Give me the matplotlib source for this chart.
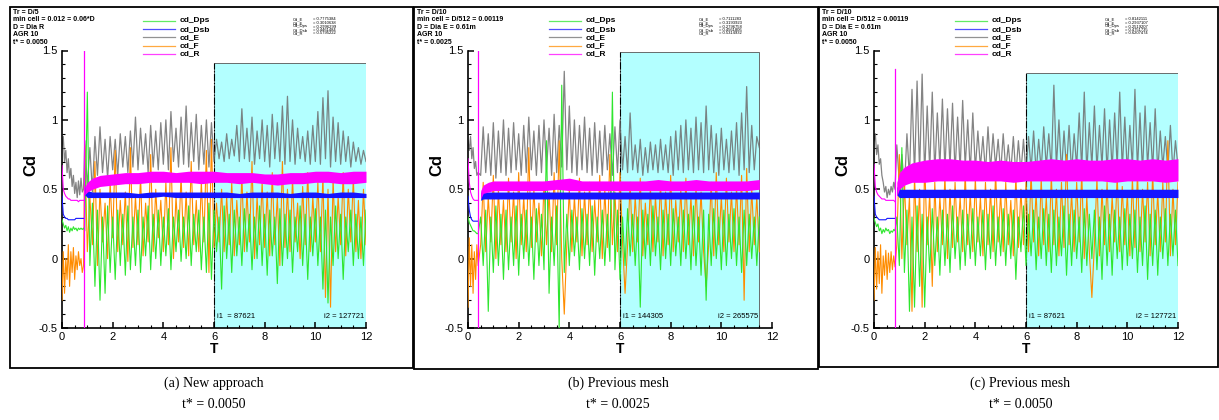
import numpy as np
import matplotlib.pyplot as plt
from matplotlib.patches import Rectangle
from matplotlib.lines import Line2D
from matplotlib.ticker import MultipleLocator, FuncFormatter

plt.rcParams['font.family'] = ['Liberation Sans', 'DejaVu Sans']
plt.rcParams['axes.unicode_minus'] = False

W, H = 1219, 420

# ---------------- panel (a) : new approach, t* = 0.0050 ----------------
jump_a = 0.85          # restart time (vertical cd_R line)
spike_top_a = 1.5
t_start_a, t_end_a = 0.9, 12.0
box_end_a, box_top_a = 12.0, 1.41

e0_a = [0.80, 0.88, 0.70, 0.78, 0.62, 0.72, 0.58, 0.65, 0.52, 0.60, 0.47, 0.55, 0.44, 0.56, 0.46, 0.58, 0.48, 0.50]
r0_a = [0.67, 0.50, 0.47, 0.45, 0.44, 0.43, 0.43, 0.42, 0.42, 0.42, 0.42, 0.42, 0.42, 0.41, 0.42, 0.42, 0.42, 0.42]
dsb0_a = [0.45, 0.32, 0.30, 0.29, 0.29, 0.28, 0.28, 0.28, 0.28, 0.28, 0.28, 0.29, 0.29, 0.29, 0.29, 0.29, 0.29, 0.29]
dps0_a = [0.28, 0.25, 0.22, 0.24, 0.20, 0.23, 0.19, 0.22, 0.20, 0.23, 0.21, 0.22, 0.20, 0.22, 0.21, 0.22, 0.21, 0.22]
f0_a = [-0.30, 0.05, -0.25, 0.00, -0.15, 0.10, -0.20, 0.05, -0.10, 0.08, -0.15, 0.02, -0.08, 0.05, -0.05, 0.00, -0.10, -0.05]

e_a = [0.85, 0.52, 0.80, 0.48, 0.88, 0.60, 0.95, 0.62, 0.86, 0.58,
       0.88, 0.64, 0.86, 0.60, 0.90, 0.66, 0.88, 0.62, 0.92, 0.66,
       1.02, 0.64, 0.94, 0.68, 0.90, 0.62, 0.96, 0.66, 0.92, 0.64,
       0.98, 0.68, 1.00, 0.64, 1.06, 0.70, 0.94, 0.66, 1.02, 0.68,
       1.10, 0.66, 0.98, 0.70, 1.04, 0.64, 0.96, 0.68, 1.00, 0.66,
       0.98, 0.70, 0.86, 0.72, 0.84, 0.70, 0.90, 0.72, 0.86, 0.74,
       0.96, 0.70, 1.08, 0.72, 0.94, 0.70, 1.02, 0.68, 0.92, 0.72,
       1.00, 0.70, 0.96, 0.66, 1.04, 0.72, 0.98, 0.70, 1.10, 0.68,
       1.17, 0.70, 1.00, 0.68, 0.94, 0.72, 0.88, 0.70, 0.92, 0.68,
       0.96, 0.70, 1.06, 0.68, 1.16, 0.72, 1.21, 0.66, 1.02, 0.70,
       0.98, 0.68, 0.92, 0.70, 0.88, 0.66, 0.84, 0.70, 0.80, 0.68,
       0.78, 0.70]
f_a = [0.82, 0.05, 0.45, 0.10, 0.70, -0.05, 0.50, 0.12, 0.40, 0.00,
       0.55, 0.15, 0.78, 0.05, 0.42, 0.10, 0.48, -0.02, 0.80, 0.08,
       0.45, 0.10, 0.60, 0.02, 0.40, 0.12, 0.75, 0.05, 0.50, 0.15,
       0.42, 0.05, 0.55, 0.10, 0.80, 0.00, 0.45, 0.12, 0.60, 0.08,
       0.48, 0.02, 0.70, 0.10, 0.42, 0.05, 0.55, 0.12, 0.78, -0.10,
       0.86, 0.08, 0.40, 0.12, 0.50, 0.05, 0.45, 0.10, 0.55, 0.02,
       0.42, 0.10, 0.60, 0.05, 0.48, 0.12, 0.70, 0.00, 0.45, 0.10,
       0.55, 0.08, 0.48, 0.02, 0.62, 0.10, 0.45, -0.05, 0.70, 0.08,
       0.50, 0.05, 0.58, 0.12, 0.40, 0.00, 0.52, 0.10, 0.62, 0.05,
       0.45, 0.12, 0.55, 0.05, 0.60, -0.28, 0.50, -0.35, 0.58, 0.05,
       0.45, 0.10, 0.62, 0.02, 0.50, 0.12, 0.58, 0.05, 0.42, 0.00,
       0.50, 0.10]
dps_a = [0.20, 1.20, -0.05, 0.40, -0.20, 0.35, -0.30, 0.30, -0.25, 0.38,
         -0.10, 0.30, -0.15, 0.35, -0.05, 0.32, -0.12, 0.38, -0.08, 0.30,
         -0.05, 0.35, -0.10, 0.30, 0.02, 0.38, -0.08, 0.32, 0.00, 0.35,
         -0.05, 0.30, 0.02, 0.36, -0.08, 0.30, 0.05, 0.35, -0.02, 0.30,
         0.00, 0.38, -0.05, 0.32, 0.05, 0.35, -0.08, 0.30, -0.10, 0.40,
         -0.15, 0.35, 0.05, 0.30, -0.22, 0.38, 0.00, 0.32, -0.10, 0.35,
         0.02, 0.30, -0.05, 0.36, 0.05, 0.32, -0.08, 0.30, 0.00, 0.38,
         -0.05, 0.32, -0.12, 0.35, 0.02, 0.30, -0.18, 0.36, -0.05, 0.32,
         0.00, 0.35, -0.10, 0.30, 0.05, 0.38, -0.05, 0.32, -0.15, 0.30,
         0.02, 0.36, -0.05, 0.30, -0.22, 0.35, -0.32, 0.30, -0.05, 0.38,
         0.00, 0.32, -0.15, 0.30, 0.05, 0.35, -0.05, 0.32, 0.00, 0.30,
         -0.05, 0.35]

t_band_a = [0.9, 1.0, 1.2, 1.5, 2.0, 2.5, 3.0, 3.5, 4.0, 4.5, 5.0, 5.5, 6.0,
            6.5, 7.0, 7.5, 8.0, 8.5, 9.0, 9.5, 10.0, 10.5, 11.0, 11.5, 12.0]
r_lo_a = [0.46, 0.48, 0.50, 0.52, 0.53, 0.54, 0.54, 0.55, 0.55, 0.55, 0.55, 0.54, 0.55,
          0.55, 0.54, 0.55, 0.54, 0.53, 0.54, 0.54, 0.55, 0.55, 0.54, 0.54, 0.55]
r_hi_a = [0.52, 0.55, 0.58, 0.60, 0.61, 0.62, 0.62, 0.63, 0.63, 0.62, 0.63, 0.63, 0.63,
          0.62, 0.62, 0.62, 0.61, 0.61, 0.62, 0.62, 0.63, 0.63, 0.62, 0.63, 0.63]
dsb_lo_a = [0.46, 0.44, 0.44, 0.44, 0.44, 0.44, 0.44, 0.44, 0.45, 0.44, 0.44, 0.44, 0.44,
            0.44, 0.44, 0.44, 0.44, 0.44, 0.44, 0.44, 0.44, 0.44, 0.44, 0.44, 0.44]
dsb_hi_a = [0.52, 0.49, 0.48, 0.48, 0.48, 0.48, 0.47, 0.48, 0.48, 0.48, 0.48, 0.48, 0.48,
            0.48, 0.47, 0.48, 0.48, 0.48, 0.47, 0.48, 0.48, 0.47, 0.48, 0.48, 0.47]

header_a = ['Tr = D/5', 'min cell = 0.012 = 0.06*D', 'D = Dia R', 'AGR 10', 't* = 0.0050']
stat_names = ['Cd_E', 'Cd_F', 'Cd_Dps', 'Cd_Dsb', 'Cd_R']
stats_a = ['0.7775384', '0.3010638', '0.2996299', '0.4461484', '0.5795222']
i1_a, i2_a = 'i1  = 87621', 'i2 = 127721'
caption_a = ['(a) New approach', 't* = 0.0050']

# ---------------- panel (b) : previous mesh, t* = 0.0025 ----------------
jump_b = 0.4
spike_top_b = 1.5
t_start_b, t_end_b = 0.5, 11.5
box_end_b, box_top_b = 11.5, 1.49

e0_b = [0.85, 0.78, 0.88, 0.72, 0.80, 0.65, 0.70, 0.60, 0.62]
r0_b = [0.72, 0.55, 0.48, 0.45, 0.43, 0.42, 0.42, 0.42, 0.42]
dsb0_b = [0.45, 0.35, 0.30, 0.28, 0.27, 0.27, 0.27, 0.27, 0.27]
dps0_b = [0.30, 0.26, 0.24, 0.22, 0.20, 0.20, 0.19, 0.18, 0.18]
f0_b = [-0.35, 0.15, -0.20, 0.10, -0.25, 0.05, -0.15, 0.10, -0.05]

e_b = [0.60, 0.95, 0.62, 0.90, 0.60, 0.98, 0.58, 0.92, 0.62, 1.00,
       0.60, 0.94, 0.62, 0.98, 0.64, 0.90, 0.60, 0.96, 0.62, 1.02,
       0.64, 0.92, 0.60, 0.96, 0.62, 1.00, 0.64, 0.94, 0.60, 1.04,
       0.62, 0.96, 0.66, 1.35, 0.64, 1.10, 0.62, 1.00, 0.60, 0.96,
       0.64, 1.02, 0.62, 0.94, 0.60, 0.98, 0.62, 0.92, 0.60, 0.96,
       0.64, 0.90, 0.60, 0.95, 0.62, 1.00, 0.64, 0.88, 0.62, 1.05,
       0.64, 0.82, 0.62, 0.86, 0.60, 0.80, 0.62, 0.84, 0.64, 0.82,
       0.62, 0.86, 0.64, 0.82, 0.62, 0.88, 0.60, 0.92, 0.64, 0.96,
       0.62, 1.00, 0.64, 0.94, 0.62, 1.02, 0.64, 0.98, 0.62, 1.10,
       0.64, 0.96, 0.62, 0.90, 0.60, 0.94, 0.64, 0.86, 0.62, 0.92,
       0.64, 0.98, 0.60, 1.05, 0.64, 1.24, 0.62, 0.96, 0.64, 0.88,
       0.80]
f_b = [0.10, 0.55, 0.05, 0.45, 0.12, 0.60, 0.00, 0.50, 0.10, 0.42,
       0.05, 0.58, 0.12, 0.48, 0.00, 0.62, 0.10, 0.45, 0.05, 0.80,
       0.08, 0.50, 0.12, 0.40, 0.02, 0.55, 0.10, 0.48, 0.05, 0.62,
       0.10, 0.85, 0.00, -0.40, 0.10, 0.50, 0.05, 0.45, 0.12, 0.58,
       0.02, 0.48, 0.10, 0.55, 0.05, 0.42, 0.12, 0.60, 0.00, 0.50,
       0.08, 0.75, 0.10, 0.48, 0.05, 0.62, 0.12, -0.25, 0.10, 0.55,
       0.05, 0.45, 0.12, 0.58, 0.02, 0.40, 0.10, 0.52, 0.05, 0.45,
       0.12, 0.55, 0.02, 0.48, 0.10, 0.60, 0.05, 0.42, 0.12, 0.50,
       0.05, 0.58, 0.10, 0.45, 0.02, 0.52, 0.12, 0.48, 0.05, -0.20,
       0.10, 0.55, 0.02, 0.62, 0.10, 0.45, 0.05, 0.58, 0.12, 0.48,
       0.05, 0.52, 0.10, 0.60, -0.30, 0.65, 0.05, 0.50, 0.10, 0.45,
       0.05]
dps_b = [0.30, -0.05, 0.35, -0.38, 0.30, -0.10, 0.38, -0.05, 0.32, -0.15,
         0.35, -0.08, 0.30, -0.05, 0.38, -0.12, 0.32, 0.00, 0.35, -0.05,
         0.30, -0.15, 0.36, -0.05, 0.32, -0.08, 0.85, -0.25, 0.30, -0.05,
         0.38, -0.50, 1.25, -0.10, 0.32, -0.05, 0.35, 0.02, 0.30, -0.08,
         0.36, 0.00, 0.32, -0.05, 0.38, -0.12, 0.30, 0.00, 0.35, -0.05,
         0.32, -0.02, 1.20, -0.08, 0.35, -0.15, 0.30, -0.05, 0.36, 0.02,
         0.32, -0.05, 0.30, -0.35, 0.35, 0.00, 0.32, -0.05, 0.38, 0.02,
         0.30, -0.08, 0.35, 0.00, 0.32, -0.05, 0.36, 0.02, 0.30, -0.05,
         0.35, 0.00, 0.32, -0.08, 0.38, -0.05, 0.30, -0.12, 0.35, -0.30,
         0.32, -0.05, 0.36, 0.00, 0.30, -0.08, 0.35, -0.05, 0.32, 0.00,
         0.36, -0.05, 0.30, -0.10, 0.35, -0.05, 0.32, 0.00, 0.30, -0.05,
         0.30]

t_band_b = [0.5, 0.6, 0.8, 1.0, 1.5, 2.0, 2.5, 3.0, 3.5, 4.0, 4.5, 5.0, 5.5, 6.0,
            6.5, 7.0, 7.5, 8.0, 8.5, 9.0, 9.5, 10.0, 10.5, 11.0, 11.5]
r_lo_b = [0.43, 0.47, 0.48, 0.49, 0.49, 0.49, 0.49, 0.49, 0.50, 0.49, 0.49, 0.49, 0.49, 0.49,
          0.49, 0.49, 0.49, 0.49, 0.49, 0.49, 0.49, 0.49, 0.49, 0.49, 0.50]
r_hi_b = [0.49, 0.53, 0.55, 0.56, 0.56, 0.56, 0.56, 0.56, 0.57, 0.58, 0.56, 0.56, 0.56, 0.56,
          0.56, 0.56, 0.57, 0.56, 0.56, 0.57, 0.56, 0.56, 0.56, 0.56, 0.57]
dsb_lo_b = [0.42, 0.43, 0.43, 0.43, 0.43, 0.43, 0.43, 0.43, 0.43, 0.43, 0.43, 0.43, 0.43, 0.43,
            0.43, 0.43, 0.43, 0.43, 0.43, 0.43, 0.43, 0.43, 0.43, 0.43, 0.43]
dsb_hi_b = [0.48, 0.48, 0.48, 0.48, 0.48, 0.48, 0.48, 0.48, 0.48, 0.48, 0.48, 0.48, 0.48, 0.48,
            0.48, 0.48, 0.48, 0.48, 0.48, 0.48, 0.48, 0.48, 0.48, 0.48, 0.48]

header_b = ['Tr = D/10', 'min cell = D/512 = 0.00119', 'D = Dia E = 0.61m', 'AGR 10', 't* = 0.0025']
stats_b = ['0.7111283', '0.3193923', '0.2796758', '0.4561806', '0.5314932']
i1_b, i2_b = 'i1 = 144305', 'i2 = 265575'
caption_b = ['(b) Previous mesh', 't* = 0.0025']

# ---------------- panel (c) : previous mesh, t* = 0.0050 ----------------
jump_c = 0.83
spike_top_c = 1.37
t_start_c, t_end_c = 0.9, 12.0
box_end_c, box_top_c = 12.0, 1.34

e0_c = [0.85, 0.90, 0.75, 0.82, 0.68, 0.72, 0.60, 0.55, 0.48, 0.52, 0.44, 0.50, 0.46, 0.52, 0.48, 0.55, 0.50]
r0_c = [0.68, 0.52, 0.48, 0.46, 0.45, 0.44, 0.43, 0.43, 0.43, 0.42, 0.42, 0.42, 0.42, 0.42, 0.42, 0.42, 0.41]
dsb0_c = [0.45, 0.32, 0.30, 0.29, 0.28, 0.28, 0.28, 0.28, 0.28, 0.28, 0.29, 0.29, 0.29, 0.29, 0.29, 0.29, 0.29]
dps0_c = [0.29, 0.26, 0.23, 0.25, 0.20, 0.22, 0.18, 0.21, 0.19, 0.22, 0.20, 0.21, 0.18, 0.20, 0.19, 0.21, 0.20]
f0_c = [-0.30, 0.08, -0.22, 0.05, -0.18, 0.10, -0.25, 0.02, -0.12, 0.06, -0.15, 0.04, -0.10, 0.05, -0.08, 0.02, -0.06]

e_c = [0.82, 0.55, 0.75, 0.50, 0.90, 0.58, 1.22, 0.60, 1.28, 0.62,
       1.33, 0.60, 1.10, 0.64, 1.20, 0.62, 1.05, 0.66, 1.15, 0.64,
       1.08, 0.66, 1.12, 0.62, 1.02, 0.64, 1.14, 0.66, 1.00, 0.62,
       1.05, 0.64, 0.92, 0.66, 0.88, 0.62, 0.95, 0.64, 0.90, 0.66,
       0.86, 0.62, 0.90, 0.64, 0.82, 0.62, 0.88, 0.60, 0.85, 0.62,
       0.86, 0.62, 0.88, 0.64, 0.92, 0.62, 0.86, 0.64, 0.95, 0.66,
       0.90, 0.64, 1.25, 0.66, 1.00, 0.62, 0.92, 0.64, 0.96, 0.62,
       0.90, 0.66, 1.05, 0.64, 1.20, 0.62, 0.98, 0.66, 1.10, 0.64,
       0.96, 0.66, 1.08, 0.62, 1.00, 0.64, 1.05, 0.66, 1.20, 0.64,
       1.02, 0.62, 0.96, 0.66, 1.22, 0.64, 1.05, 0.62, 1.10, 0.66,
       0.98, 0.64, 1.08, 0.62, 0.92, 0.66, 0.88, 0.64, 0.96, 0.62,
       0.85, 0.66]
f_c = [0.10, 0.75, 0.00, 0.55, 0.10, 0.45, -0.38, 0.60, 0.05, 0.50,
       -0.35, 0.70, 0.10, 0.48, -0.20, 0.55, 0.05, 0.45, 0.10, 0.60,
       0.00, 0.50, 0.08, 0.55, 0.12, 0.45, 0.05, 0.62, 0.10, 0.48,
       0.05, 0.58, 0.12, 0.45, 0.02, 0.55, 0.10, 0.50, 0.05, 0.62,
       0.12, 0.48, 0.05, 0.55, 0.10, 0.42, 0.02, 0.60, 0.08, 0.50,
       0.10, 0.55, 0.05, 0.62, 0.12, 0.48, 0.02, 0.58, 0.10, 0.45,
       0.05, 0.60, 0.10, 0.50, 0.02, 0.55, 0.08, 0.75, 0.10, 0.48,
       0.05, 0.55, 0.12, 0.62, 0.00, 0.45, 0.05, -0.28, 0.10, 0.58,
       0.02, 0.50, 0.10, 0.55, 0.05, 0.45, 0.12, 0.60, 0.05, 0.52,
       0.10, 0.48, 0.02, 0.58, 0.08, 0.62, 0.05, 0.50, 0.12, 0.55,
       0.02, 0.62, 0.10, 0.48, 0.05, 0.55, 0.12, 0.85, 0.02, 0.50,
       0.10, 0.55]
dps_c = [0.30, -0.05, 0.80, -0.10, 0.35, -0.38, 0.30, -0.35, 0.38, -0.20,
         0.32, -0.35, 0.30, -0.10, 0.36, -0.05, 0.30, -0.12, 0.35, -0.05,
         0.32, -0.10, 0.38, 0.00, 0.30, -0.08, 0.35, -0.05, 0.32, 0.00,
         0.36, -0.05, 0.30, 0.02, 0.35, -0.08, 0.32, 0.00, 0.38, -0.05,
         0.30, 0.02, 0.36, -0.05, 0.32, 0.00, 0.35, -0.15, 0.30, 0.05,
         0.38, -0.05, 0.32, 0.02, 0.35, -0.08, 0.30, 0.00, 0.36, -0.05,
         0.32, -0.10, 0.35, -0.05, 0.30, 0.02, 0.38, -0.12, 0.32, -0.05,
         0.35, 0.00, 0.30, -0.10, 0.36, -0.05, 0.32, 0.00, 0.35, -0.08,
         0.30, -0.15, 0.38, -0.05, 0.32, -0.12, 0.35, 0.00, 0.30, -0.08,
         0.36, -0.05, 0.32, 0.00, 0.35, -0.10, 0.30, -0.05, 0.38, -0.15,
         0.32, -0.05, 0.35, -0.12, 0.30, 0.00, 0.36, -0.05, 0.32, 0.02,
         0.35, -0.05]

t_band_c = [0.9, 1.0, 1.2, 1.5, 2.0, 2.5, 3.0, 3.5, 4.0, 4.5, 5.0, 5.5, 6.0,
            6.5, 7.0, 7.5, 8.0, 8.5, 9.0, 9.5, 10.0, 10.5, 11.0, 11.5, 12.0]
r_lo_c = [0.45, 0.50, 0.53, 0.55, 0.55, 0.56, 0.56, 0.56, 0.56, 0.56, 0.56, 0.55, 0.56,
          0.56, 0.56, 0.56, 0.56, 0.56, 0.56, 0.55, 0.56, 0.56, 0.56, 0.55, 0.56]
r_hi_c = [0.55, 0.62, 0.66, 0.69, 0.71, 0.72, 0.72, 0.71, 0.71, 0.70, 0.71, 0.70, 0.70,
          0.71, 0.72, 0.71, 0.72, 0.71, 0.71, 0.72, 0.72, 0.71, 0.72, 0.71, 0.72]
dsb_lo_c = [0.46, 0.44, 0.44, 0.44, 0.44, 0.44, 0.44, 0.44, 0.44, 0.44, 0.44, 0.44, 0.44,
            0.44, 0.44, 0.44, 0.44, 0.44, 0.44, 0.44, 0.44, 0.44, 0.44, 0.44, 0.44]
dsb_hi_c = [0.52, 0.50, 0.50, 0.50, 0.50, 0.50, 0.50, 0.50, 0.50, 0.50, 0.50, 0.50, 0.50,
            0.50, 0.50, 0.50, 0.50, 0.50, 0.50, 0.50, 0.50, 0.50, 0.50, 0.50, 0.50]

header_c = ['Tr = D/10', 'min cell = D/512 = 0.00119', 'D = Dia E = 0.61m', 'AGR 10', 't* = 0.0050']
stats_c = ['0.8142111', '0.2937107', '0.2519207', '0.4751735', '0.6207474']
i1_c, i2_c = 'i1 = 87621', 'i2 = 127721'
caption_c = ['(c) Previous mesh', 't* = 0.0050']

legend_names = ['cd_Dps', 'cd_Dsb', 'cd_E', 'cd_F', 'cd_R']

C_DPS = '#2ee62e'
C_DSB = '#1414ff'
C_E = '#6e6e6e'
C_F = '#ff8c00'
C_R = '#ff00ff'
C_BOX = '#b3ffff'

panels = [
    dict(jump=jump_a, spike=spike_top_a, t0=t_start_a, t1=t_end_a, bx=box_end_a, by=box_top_a,
         e0=e0_a, r0=r0_a, dsb0=dsb0_a, dps0=dps0_a, f0=f0_a, e=e_a, f=f_a, dps=dps_a,
         tb=t_band_a, rlo=r_lo_a, rhi=r_hi_a, dlo=dsb_lo_a, dhi=dsb_hi_a,
         header=header_a, stats=stats_a, i1=i1_a, i2=i2_a, cap=caption_a,
         frame=(10, 7, 413, 368), ax_x=62),
    dict(jump=jump_b, spike=spike_top_b, t0=t_start_b, t1=t_end_b, bx=box_end_b, by=box_top_b,
         e0=e0_b, r0=r0_b, dsb0=dsb0_b, dps0=dps0_b, f0=f0_b, e=e_b, f=f_b, dps=dps_b,
         tb=t_band_b, rlo=r_lo_b, rhi=r_hi_b, dlo=dsb_lo_b, dhi=dsb_hi_b,
         header=header_b, stats=stats_b, i1=i1_b, i2=i2_b, cap=caption_b,
         frame=(414, 7, 818, 369), ax_x=468),
    dict(jump=jump_c, spike=spike_top_c, t0=t_start_c, t1=t_end_c, bx=box_end_c, by=box_top_c,
         e0=e0_c, r0=r0_c, dsb0=dsb0_c, dps0=dps0_c, f0=f0_c, e=e_c, f=f_c, dps=dps_c,
         tb=t_band_c, rlo=r_lo_c, rhi=r_hi_c, dlo=dsb_lo_c, dhi=dsb_hi_c,
         header=header_c, stats=stats_c, i1=i1_c, i2=i2_c, cap=caption_c,
         frame=(819, 7, 1218, 367), ax_x=874),
]


def fx(px):
    return px / W


def fy(py):
    return 1 - py / H


def join(p, key0, key):
    ta = np.linspace(0, p['jump'], len(p[key0]))
    tb = np.linspace(p['t0'], p['t1'], len(p[key]))
    return np.concatenate([ta, tb]), np.concatenate([p[key0], p[key]])


def draw_panel(fig, p):
    x0 = p['ax_x']
    ax = fig.add_axes([fx(x0), fy(328), 304 / W, 277.5 / H])

    ax.add_patch(Rectangle((6, -0.5), p['bx'] - 6, p['by'] + 0.5, fc=C_BOX,
                           ec='#555555', lw=0.6, zorder=0))
    ax.plot([6, 6], [-0.5, p['by']], color='k', ls='-.', lw=0.8, zorder=1)

    t, v = join(p, 'e0', 'e')
    ax.plot(t, v, color=C_E, lw=0.9, alpha=0.85, zorder=2)
    t, v = join(p, 'f0', 'f')
    ax.plot(t, v, color=C_F, lw=0.8, zorder=3)
    t, v = join(p, 'dps0', 'dps')
    ax.plot(t, v, color=C_DPS, lw=0.8, zorder=3)

    ta = np.linspace(0, p['jump'], len(p['dsb0']))
    ax.plot(ta, p['dsb0'], color=C_DSB, lw=0.8, zorder=4)
    ax.fill_between(p['tb'], p['dlo'], p['dhi'], color=C_DSB, lw=0, zorder=4)
    ta = np.linspace(0, p['jump'], len(p['r0']))
    ax.plot(ta, p['r0'], color=C_R, lw=0.8, zorder=5)
    ax.fill_between(p['tb'], p['rlo'], p['rhi'], color=C_R, lw=0, zorder=5)
    ax.plot([p['jump'], p['jump']], [-0.5, p['spike']], color=C_R, lw=0.9, zorder=5)

    ax.text(6.1, -0.42, p['i1'], fontsize=5.5, va='center', ha='left', zorder=6)
    ax.text(p['bx'] - 0.05, -0.42, p['i2'], fontsize=5.5, va='center', ha='right', zorder=6)

    ax.set_xlim(0, 12)
    ax.set_ylim(-0.5, 1.5)
    ax.set_facecolor('none')
    for s in ['top', 'right']:
        ax.spines[s].set_visible(False)
    for s in ['left', 'bottom']:
        ax.spines[s].set_linewidth(1.2)
    ax.xaxis.set_major_locator(MultipleLocator(2))
    ax.xaxis.set_minor_locator(MultipleLocator(0.5))
    ax.yaxis.set_major_locator(MultipleLocator(0.5))
    ax.yaxis.set_minor_locator(MultipleLocator(0.1))
    ax.yaxis.set_major_formatter(FuncFormatter(lambda v, pos: '%g' % v))
    ax.tick_params(which='major', direction='in', length=4, width=1.1, labelsize=8, pad=3)
    ax.tick_params(which='minor', direction='in', length=2.2, width=0.8)
    ax.set_ylabel('Cd', fontsize=12, fontweight='bold')
    ax.yaxis.set_label_coords(-0.077, 0.587)
    ax.set_xlabel('T', fontsize=10, fontweight='bold')
    ax.xaxis.set_label_coords(0.5, -0.05)

    # frame around the plot
    l, t_, r, b = p['frame']
    fig.add_artist(Rectangle((fx(l), fy(b)), fx(r - l), (b - t_) / H, fill=False,
                             ec='black', lw=1.3, transform=fig.transFigure))

    # header text
    for k, line in enumerate(p['header']):
        fig.text(fx(l + 3), fy(12 + 7.6 * k), line, fontsize=5.0, fontweight='bold',
                 va='center', ha='left')

    # legend
    colors = [C_DPS, C_DSB, C_E, C_F, C_R]
    for k, (name, c) in enumerate(zip(legend_names, colors)):
        yy = fy(21 + 8.2 * k)
        fig.add_artist(Line2D([fx(x0 + 81), fx(x0 + 113)], [yy, yy], color=c, lw=0.9,
                              alpha=0.75, transform=fig.transFigure))
        fig.text(fx(x0 + 118), yy, name, fontsize=6, fontweight='bold', va='center', ha='left')

    # averages
    for k, (name, val) in enumerate(zip(stat_names, p['stats'])):
        yy = fy(19.5 + 3.5 * k)
        fig.text(fx(x0 + 231), yy, name, fontsize=3.0, va='center', ha='left')
        fig.text(fx(x0 + 251), yy, '= ' + val, fontsize=3.0, va='center', ha='left')

    # caption
    cx = fx((l + r) / 2 + 2)
    fig.text(cx, fy(383), p['cap'][0], fontsize=10, family='Liberation Serif',
             ha='center', va='center')
    fig.text(cx, fy(405), p['cap'][1], fontsize=10, family='Liberation Serif',
             ha='center', va='center')
    return ax


fig = plt.figure(figsize=(W / 100, H / 100), dpi=100)
for p in panels:
    draw_panel(fig, p)

plt.savefig('out.png', dpi=100)
